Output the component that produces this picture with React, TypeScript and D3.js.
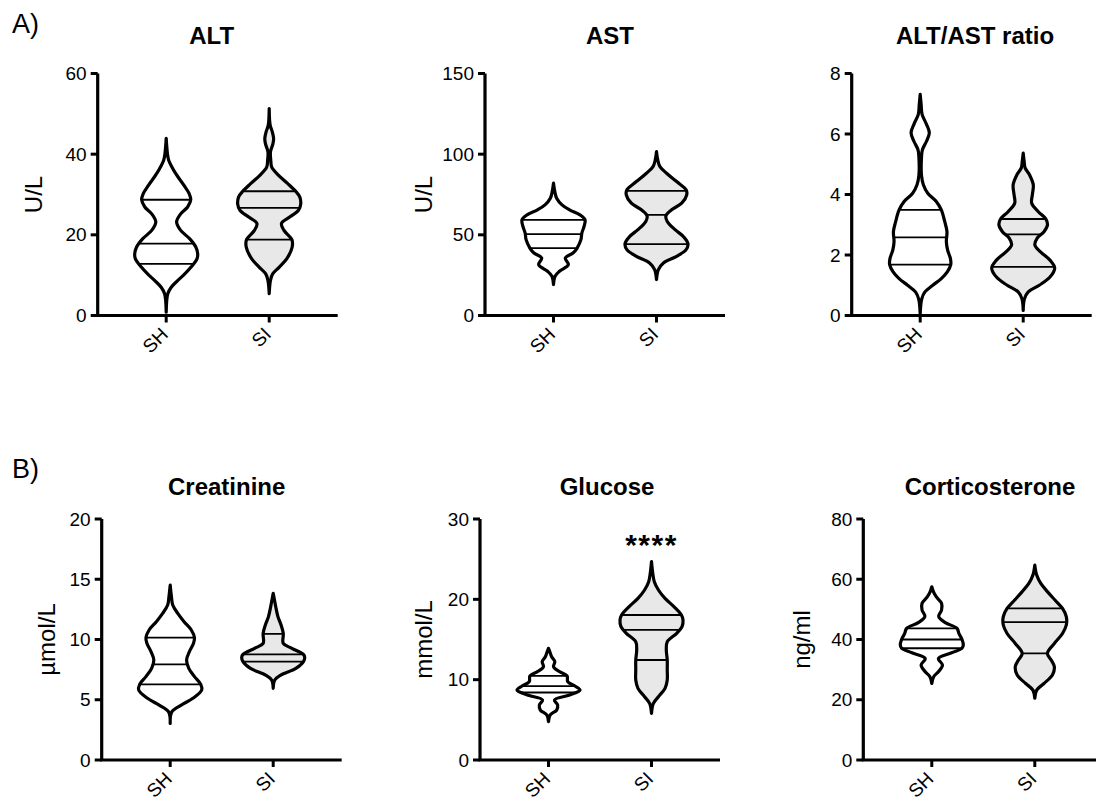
import React from 'react';
import * as d3 from 'd3';

// groups on the x axis
const groups = ['SH', 'SI'];

// violin outlines: [value, relative half width]
const altSH: [number, number][] = [[0.8, 0], [5.4, 0.05], [7, 0.16], [8.7, 0.37], [10.3, 0.59], [12, 0.79], [14.1, 0.98], [15.3, 1], [17, 0.94], [19, 0.75], [21.1, 0.46], [23.2, 0.33], [25.2, 0.46], [26.9, 0.68], [28.7, 0.78], [30.2, 0.73], [32.3, 0.56], [34.4, 0.37], [36.4, 0.21], [38.5, 0.08], [40.1, 0.04], [43.9, 0]];
const altSI: [number, number][] = [[5.4, 0], [8.7, 0.04], [10.3, 0.11], [12, 0.32], [14.1, 0.56], [17, 0.73], [18.8, 0.72], [21.1, 0.47], [22.8, 0.39], [24.4, 0.65], [26.1, 0.93], [27.6, 1], [29.4, 0.97], [30.8, 0.84], [32.7, 0.59], [34.8, 0.29], [36.8, 0.08], [38.5, 0.05], [40.6, 0.04], [42.6, 0.12], [43.9, 0.14], [45.5, 0.1], [47.2, 0.03], [51.3, 0]];
const astSH: [number, number][] = [[19.2, 0], [24.3, 0.05], [27.4, 0.19], [31.5, 0.47], [35.6, 0.375], [38.7, 0.62], [41.8, 0.75], [47, 0.87], [51.1, 0.9], [55.2, 0.97], [59.3, 1], [62.4, 0.84], [65.5, 0.51], [68.6, 0.27], [72.7, 0.1], [76.9, 0.04], [82, 0]];
const astSI: [number, number][] = [[22.3, 0], [28.4, 0.06], [32.6, 0.22], [36.7, 0.64], [40.8, 0.94], [44.5, 1], [49, 0.85], [53.2, 0.59], [58.3, 0.34], [61.8, 0.3], [65.5, 0.48], [69.6, 0.8], [74.8, 0.96], [77.9, 0.94], [83, 0.64], [88.2, 0.32], [92.3, 0.11], [96.4, 0.04], [101.6, 0]];
const ratioSH: [number, number][] = [[0.06, 0], [0.55, 0.05], [0.78, 0.15], [1.0, 0.4], [1.22, 0.67], [1.44, 0.86], [1.68, 0.97], [1.88, 0.96], [2.16, 0.87], [2.44, 0.83], [2.77, 0.85], [3.1, 0.78], [3.49, 0.67], [3.77, 0.51], [4.04, 0.24], [4.32, 0.1], [4.65, 0.04], [5.2, 0.04], [5.48, 0.07], [5.76, 0.2], [6.04, 0.29], [6.32, 0.2], [6.65, 0.06], [6.98, 0.03], [7.31, 0]];
const ratioSI: [number, number][] = [[0.17, 0], [0.55, 0.04], [0.78, 0.16], [1.0, 0.51], [1.27, 0.85], [1.57, 1], [1.83, 0.85], [2.1, 0.55], [2.33, 0.37], [2.55, 0.44], [2.77, 0.66], [2.99, 0.77], [3.19, 0.72], [3.43, 0.48], [3.71, 0.27], [3.99, 0.29], [4.32, 0.32], [4.65, 0.2], [4.88, 0.06], [5.1, 0.03], [5.37, 0]];
const creaSH: [number, number][] = [[3.04, 0], [4.0, 0.05], [4.56, 0.35], [5.12, 0.72], [5.81, 1], [6.28, 0.97], [6.92, 0.77], [7.6, 0.59], [8.3, 0.52], [9.0, 0.61], [9.68, 0.74], [10.15, 0.77], [10.79, 0.67], [11.48, 0.44], [12.17, 0.24], [12.86, 0.08], [13.55, 0.04], [14.52, 0]];
const creaSI: [number, number][] = [[5.95, 0], [6.64, 0.05], [7.05, 0.24], [7.6, 0.72], [8.16, 0.96], [8.52, 1], [8.77, 0.96], [9.27, 0.59], [9.68, 0.32], [10.5, 0.32], [11.2, 0.25], [11.9, 0.15], [12.72, 0.08], [13.28, 0.04], [13.83, 0]];
const glucSH: [number, number][] = [[4.77, 0], [5.6, 0.05], [6.22, 0.26], [6.85, 0.29], [7.47, 0.19], [8.1, 0.67], [8.71, 1], [9.21, 0.84], [9.75, 0.61], [10.46, 0.59], [11.0, 0.35], [11.62, 0.16], [12.24, 0.2], [12.86, 0.1], [13.49, 0.04], [13.9, 0]];
const glucSI: [number, number][] = [[5.81, 0], [7.05, 0.06], [7.88, 0.22], [8.92, 0.43], [9.96, 0.5], [11.2, 0.5], [12.45, 0.5], [13.7, 0.47], [14.73, 0.5], [15.77, 0.8], [16.6, 0.97], [17.43, 1], [18.05, 0.95], [19.09, 0.71], [20.12, 0.43], [21.16, 0.22], [22.2, 0.09], [23.24, 0.04], [24.69, 0]];
const cortSH: [number, number][] = [[25.4, 0], [27.65, 0.06], [29.3, 0.21], [31.5, 0.34], [33.7, 0.21], [35.6, 0.63], [37.1, 0.96], [38.2, 1], [40, 0.96], [42, 0.86], [43.7, 0.8], [45.6, 0.43], [47.6, 0.22], [49.8, 0.31], [52, 0.31], [54.2, 0.14], [55.9, 0.05], [57.5, 0]];
const cortSI: [number, number][] = [[20.5, 0], [23.2, 0.06], [25.4, 0.29], [28.2, 0.56], [31, 0.62], [33.2, 0.52], [35.4, 0.4], [38.7, 0.62], [42, 0.88], [44.8, 1], [47.6, 1], [50.3, 0.88], [53.1, 0.64], [55.9, 0.4], [58.6, 0.19], [61.4, 0.06], [64.7, 0]];

// quartiles [Q1, median, Q3]
const altQ = [[12.8, 17.8, 28.7], [18.8, 26.7, 30.8]];
const astQ = [[41.8, 50.5, 59.3], [44.3, 62.4, 77.3]];
const ratioQ = [[1.68, 2.58, 3.49], [1.61, 2.68, 3.19]];
const creaQ = [[6.28, 7.94, 10.15], [8.16, 8.77, 10.46]];
const glucQ = [[8.4, 9.2, 10.46], [12.45, 16.2, 18.05]];
const cortQ = [[37.1, 40.0, 43.7], [35.4, 45.8, 50.3]];

// y tick labels
const altTicks = [0, 20, 40, 60];
const astTicks = [0, 50, 100, 150];
const ratioTicks = [0, 2, 4, 6, 8];
const creaTicks = [0, 5, 10, 15, 20];
const glucTicks = [0, 10, 20, 30];
const cortTicks = [0, 20, 40, 60, 80];

const titles = ['ALT', 'AST', 'ALT/AST ratio', 'Creatinine', 'Glucose', 'Corticosterone'];
const units = ['U/L', 'U/L', '', 'µmol/L', 'mmol/L', 'ng/ml'];

const panels = [
  { shapes: [altSH, altSI], q: altQ, ticks: altTicks },
  { shapes: [astSH, astSI], q: astQ, ticks: astTicks },
  { shapes: [ratioSH, ratioSI], q: ratioQ, ticks: ratioTicks },
  { shapes: [creaSH, creaSI], q: creaQ, ticks: creaTicks },
  { shapes: [glucSH, glucSI], q: glucQ, ticks: glucTicks, star: '****' },
  { shapes: [cortSH, cortSI], q: cortQ, ticks: cortTicks },
];

// page layout
const rows = [
  { top: 73.5, bottom: 315.5, titleY: 44, tag: 'A)', tagY: 33 },
  { top: 519, bottom: 760, titleY: 495, tag: 'B)', tagY: 478 },
];
const axisXs = [97.7, 485, 851.7, 101.7, 480, 863.3];
const titleXs = [211.7, 610, 975, 226.7, 607, 990];
const labelDx = [-56, -53, -52, -47, -48, -53];
const AXIS_W = 240;
const HALF_W = 31.5;
const FONT = '"Liberation Sans", Arial, Helvetica, sans-serif';
const fills = ['#ffffff', '#e8e8e8'];

function Panel({ idx }: { idx: number }) {
  const p = panels[idx];
  const row = rows[Math.floor(idx / 3)];
  const ax = axisXs[idx];
  const y = d3.scaleLinear().domain([0, d3.max(p.ticks) as number]).range([row.bottom, row.top]);
  const x = d3.scalePoint<string>().domain(groups).range([ax, ax + AXIS_W]).padding(0.665);
  const w = d3.scaleLinear().domain([0, 1]).range([0, HALF_W]);

  return (
    <g>
      {groups.map((g, gi) => {
        const cx = x(g) as number;
        const area = d3.area<[number, number]>()
          .y(d => y(d[0]))
          .x0(d => cx - w(d[1]))
          .x1(d => cx + w(d[1]))
          .curve(d3.curveCatmullRom.alpha(0.5));
        const path = area(p.shapes[gi]) as string;
        const clipId = `clip-${idx}-${gi}`;
        return (
          <g key={g}>
            <clipPath id={clipId}><path d={path} /></clipPath>
            <path d={path} fill={fills[gi]} stroke="none" />
            <g clipPath={`url(#${clipId})`}>
              {p.q[gi].map((v, k) => (
                <line key={k} x1={cx - HALF_W - 5} x2={cx + HALF_W + 5} y1={y(v)} y2={y(v)}
                  stroke="#000" strokeWidth={1.8} />
              ))}
            </g>
            <path d={path} fill="none" stroke="#000" strokeWidth={3.2} strokeLinejoin="round" />
          </g>
        );
      })}

      {/* axes */}
      <path d={`M${ax},${row.top}V${row.bottom}H${ax + AXIS_W}`} fill="none" stroke="#000" strokeWidth={3.2} />
      {p.ticks.map(t => (
        <g key={t}>
          <line x1={ax - 7} x2={ax} y1={y(t)} y2={y(t)} stroke="#000" strokeWidth={3} />
          <text x={ax - 11} y={y(t)} dy="0.35em" textAnchor="end" fontSize={19} fontFamily={FONT}>{t}</text>
        </g>
      ))}
      {groups.map(g => (
        <g key={g}>
          <line x1={x(g)} x2={x(g)} y1={row.bottom} y2={row.bottom + 7} stroke="#000" strokeWidth={3} />
          <text transform={`translate(${(x(g) as number) + 3},${row.bottom + 20}) rotate(-45)`}
            textAnchor="end" fontSize={19} fontFamily={FONT}>{g}</text>
        </g>
      ))}

      <text x={titleXs[idx]} y={row.titleY} textAnchor="middle" fontSize={24} fontWeight="bold" fontFamily={FONT}>{titles[idx]}</text>
      {units[idx] && (
        <text transform={`translate(${ax + labelDx[idx]},${(row.top + row.bottom) / 2}) rotate(-90)`}
          textAnchor="middle" fontSize={24} fontFamily={FONT}>{units[idx]}</text>
      )}
      {p.star && (
        <text x={x('SI')} y={555} textAnchor="middle" fontSize={30} fontWeight="bold" letterSpacing={1.5} fontFamily={FONT}>{p.star}</text>
      )}
    </g>
  );
}

export default function App() {
  return (
    <svg width={1096} height={801} style={{ position: 'absolute', left: 0, top: 0, background: '#fff' }}>
      {rows.map(r => (
        <text key={r.tag} x={12} y={r.tagY} fontSize={27} fontFamily={FONT}>{r.tag}</text>
      ))}
      {panels.map((_, i) => <Panel key={i} idx={i} />)}
    </svg>
  );
}
